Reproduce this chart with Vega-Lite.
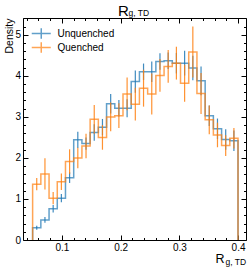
{
  "$schema": "https://vega.github.io/schema/vega-lite/v6.json",
  "width": 223,
  "height": 222,
  "autosize": {"type": "none"},
  "padding": {"left": 23, "top": 18, "right": 3, "bottom": 30},
  "title": {"text": "R", "anchor": "start", "frame": "group", "dx": 95, "dy": 11, "offset": -12, "baseline": "alphabetic", "fontSize": 15, "fontWeight": "normal", "font": "Liberation Sans", "color": "black"},
  "datasets": {
    "hist": [
      {"s": "Unquenched", "i": 0, "edge": 0.05, "v": 0},
      {"s": "Unquenched", "i": 1, "edge": 0.064, "mid": 0.057, "v": 0.30, "elo": 0.25, "ehi": 0.35},
      {"s": "Unquenched", "i": 2, "edge": 0.078, "mid": 0.071, "v": 0.49, "elo": 0.42, "ehi": 0.56},
      {"s": "Unquenched", "i": 3, "edge": 0.092, "mid": 0.085, "v": 0.76, "elo": 0.67, "ehi": 0.85},
      {"s": "Unquenched", "i": 4, "edge": 0.106, "mid": 0.099, "v": 1.02, "elo": 0.92, "ehi": 1.12},
      {"s": "Unquenched", "i": 5, "edge": 0.120, "mid": 0.113, "v": 1.52, "elo": 1.39, "ehi": 1.65},
      {"s": "Unquenched", "i": 6, "edge": 0.134, "mid": 0.127, "v": 2.44, "elo": 2.24, "ehi": 2.64},
      {"s": "Unquenched", "i": 7, "edge": 0.148, "mid": 0.141, "v": 2.35, "elo": 2.20, "ehi": 2.50},
      {"s": "Unquenched", "i": 8, "edge": 0.162, "mid": 0.155, "v": 2.62, "elo": 2.42, "ehi": 2.82},
      {"s": "Unquenched", "i": 9, "edge": 0.176, "mid": 0.169, "v": 2.75, "elo": 2.55, "ehi": 2.95},
      {"s": "Unquenched", "i": 10, "edge": 0.190, "mid": 0.183, "v": 3.32, "elo": 3.08, "ehi": 3.56},
      {"s": "Unquenched", "i": 11, "edge": 0.204, "mid": 0.197, "v": 3.21, "elo": 3.01, "ehi": 3.41},
      {"s": "Unquenched", "i": 12, "edge": 0.218, "mid": 0.211, "v": 3.21, "elo": 2.99, "ehi": 3.43},
      {"s": "Unquenched", "i": 13, "edge": 0.232, "mid": 0.225, "v": 3.86, "elo": 3.59, "ehi": 4.13},
      {"s": "Unquenched", "i": 14, "edge": 0.246, "mid": 0.239, "v": 4.10, "elo": 3.90, "ehi": 4.30},
      {"s": "Unquenched", "i": 15, "edge": 0.260, "mid": 0.253, "v": 4.10, "elo": 3.85, "ehi": 4.35},
      {"s": "Unquenched", "i": 16, "edge": 0.274, "mid": 0.267, "v": 4.35, "elo": 4.15, "ehi": 4.55},
      {"s": "Unquenched", "i": 17, "edge": 0.288, "mid": 0.281, "v": 4.37, "elo": 4.17, "ehi": 4.57},
      {"s": "Unquenched", "i": 18, "edge": 0.302, "mid": 0.295, "v": 4.31, "elo": 4.06, "ehi": 4.56},
      {"s": "Unquenched", "i": 19, "edge": 0.316, "mid": 0.309, "v": 4.31, "elo": 4.01, "ehi": 4.61},
      {"s": "Unquenched", "i": 20, "edge": 0.330, "mid": 0.323, "v": 4.19, "elo": 3.89, "ehi": 4.49},
      {"s": "Unquenched", "i": 21, "edge": 0.344, "mid": 0.337, "v": 3.88, "elo": 3.53, "ehi": 4.23},
      {"s": "Unquenched", "i": 22, "edge": 0.358, "mid": 0.351, "v": 3.03, "elo": 2.78, "ehi": 3.28},
      {"s": "Unquenched", "i": 23, "edge": 0.372, "mid": 0.365, "v": 2.71, "elo": 2.46, "ehi": 2.96},
      {"s": "Unquenched", "i": 24, "edge": 0.386, "mid": 0.379, "v": 2.45, "elo": 2.20, "ehi": 2.70},
      {"s": "Unquenched", "i": 25, "edge": 0.400, "mid": 0.393, "v": 2.42, "elo": 2.17, "ehi": 2.67},
      {"s": "Unquenched", "i": 26, "edge": 0.400, "v": 0},
      {"s": "Quenched", "i": 0, "edge": 0.05, "v": 0},
      {"s": "Quenched", "i": 1, "edge": 0.064, "mid": 0.057, "v": 1.36, "elo": 1.21, "ehi": 1.51},
      {"s": "Quenched", "i": 2, "edge": 0.078, "mid": 0.071, "v": 1.61, "elo": 1.23, "ehi": 1.99},
      {"s": "Quenched", "i": 3, "edge": 0.092, "mid": 0.085, "v": 1.02, "elo": 0.87, "ehi": 1.17},
      {"s": "Quenched", "i": 4, "edge": 0.106, "mid": 0.099, "v": 1.42, "elo": 1.22, "ehi": 1.62},
      {"s": "Quenched", "i": 5, "edge": 0.120, "mid": 0.113, "v": 1.91, "elo": 1.61, "ehi": 2.21},
      {"s": "Quenched", "i": 6, "edge": 0.134, "mid": 0.127, "v": 2.00, "elo": 1.75, "ehi": 2.25},
      {"s": "Quenched", "i": 7, "edge": 0.148, "mid": 0.141, "v": 2.29, "elo": 1.99, "ehi": 2.59},
      {"s": "Quenched", "i": 8, "edge": 0.162, "mid": 0.155, "v": 2.94, "elo": 2.59, "ehi": 3.29},
      {"s": "Quenched", "i": 9, "edge": 0.176, "mid": 0.169, "v": 2.50, "elo": 2.20, "ehi": 2.80},
      {"s": "Quenched", "i": 10, "edge": 0.190, "mid": 0.183, "v": 3.00, "elo": 2.65, "ehi": 3.35},
      {"s": "Quenched", "i": 11, "edge": 0.204, "mid": 0.197, "v": 3.03, "elo": 2.73, "ehi": 3.33},
      {"s": "Quenched", "i": 12, "edge": 0.218, "mid": 0.211, "v": 3.56, "elo": 3.16, "ehi": 3.96},
      {"s": "Quenched", "i": 13, "edge": 0.232, "mid": 0.225, "v": 3.31, "elo": 2.91, "ehi": 3.71},
      {"s": "Quenched", "i": 14, "edge": 0.246, "mid": 0.239, "v": 3.70, "elo": 3.25, "ehi": 4.15},
      {"s": "Quenched", "i": 15, "edge": 0.260, "mid": 0.253, "v": 3.56, "elo": 3.06, "ehi": 4.06},
      {"s": "Quenched", "i": 16, "edge": 0.274, "mid": 0.267, "v": 4.01, "elo": 3.61, "ehi": 4.41},
      {"s": "Quenched", "i": 17, "edge": 0.288, "mid": 0.281, "v": 4.23, "elo": 3.83, "ehi": 4.63},
      {"s": "Quenched", "i": 18, "edge": 0.302, "mid": 0.295, "v": 4.31, "elo": 3.91, "ehi": 4.71},
      {"s": "Quenched", "i": 19, "edge": 0.316, "mid": 0.309, "v": 3.82, "elo": 3.37, "ehi": 4.27},
      {"s": "Quenched", "i": 20, "edge": 0.330, "mid": 0.323, "v": 4.58, "elo": 3.96, "ehi": 5.20},
      {"s": "Quenched", "i": 21, "edge": 0.344, "mid": 0.337, "v": 3.57, "elo": 3.07, "ehi": 4.07},
      {"s": "Quenched", "i": 22, "edge": 0.358, "mid": 0.351, "v": 2.93, "elo": 2.58, "ehi": 3.28},
      {"s": "Quenched", "i": 23, "edge": 0.372, "mid": 0.365, "v": 2.56, "elo": 2.26, "ehi": 2.86},
      {"s": "Quenched", "i": 24, "edge": 0.386, "mid": 0.379, "v": 2.30, "elo": 2.05, "ehi": 2.55},
      {"s": "Quenched", "i": 25, "edge": 0.400, "mid": 0.393, "v": 2.48, "elo": 2.23, "ehi": 2.73},
      {"s": "Quenched", "i": 26, "edge": 0.400, "v": 0}
    ]
  },
  "data": {"name": "hist"},
  "encoding": {
    "color": {
      "field": "s", "type": "nominal",
      "scale": {"domain": ["Unquenched", "Quenched"], "range": ["#1f77b4", "#ff7f0e"]},
      "legend": {"orient": "none", "legendX": 12.75, "legendY": 10, "title": null, "padding": 0,
        "symbolType": "M-2,0H2M0,-1.1V1.1", "symbolSize": 90.25, "symbolStrokeWidth": 1.5,
        "labelFontSize": 10, "labelFont": "Liberation Sans", "labelColor": "black", "labelOffset": 10.75, "rowPadding": -3}
    }
  },
  "layer": [
    {
      "transform": [{"filter": "datum.s === 'Unquenched'"}],
      "mark": {"type": "line", "interpolate": "step-before", "strokeWidth": 1.5, "opacity": 0.7},
      "encoding": {
        "x": {"field": "edge", "type": "quantitative", "scale": {"domain": [0.0336, 0.4136], "nice": false, "zero": false},
          "axis": {"orient": "bottom", "values": [0.1, 0.2, 0.3, 0.4], "format": ".1f", "tickSize": -5, "labelPadding": 7,
            "title": "R", "titleX": 201, "titleY": 22, "titleAlign": "right", "titleBaseline": "alphabetic", "titleFontSize": 12.5}},
        "y": {"field": "v", "type": "quantitative", "scale": {"domain": [0, 5.41], "nice": false},
          "axis": {"orient": "left", "values": [0, 1, 2, 3, 4, 5], "tickSize": -5, "labelPadding": 7.5,
            "title": "Density", "titleX": -11, "titleY": 0, "titleAngle": 270, "titleAlign": "right", "titleBaseline": "alphabetic", "titleFontSize": 10.5}},
        "order": {"field": "i", "type": "quantitative"}
      }
    },
    {
      "transform": [{"filter": "datum.s === 'Unquenched'"}],
      "mark": {"type": "rule", "strokeWidth": 1.2, "opacity": 0.85},
      "encoding": {
        "x": {"field": "mid", "type": "quantitative", "scale": {"domain": [0.0336, 0.4136], "nice": false, "zero": false},
          "axis": {"orient": "bottom", "values": [0.04, 0.06, 0.08, 0.12, 0.14, 0.16, 0.18, 0.22, 0.24, 0.26, 0.28, 0.32, 0.34, 0.36, 0.38], "labels": false, "tickSize": -2.5, "title": null}},
        "y": {"field": "elo", "type": "quantitative", "scale": {"domain": [0, 5.41], "nice": false},
          "axis": {"orient": "left", "values": [0.2, 0.4, 0.6, 0.8, 1.2, 1.4, 1.6, 1.8, 2.2, 2.4, 2.6, 2.8, 3.2, 3.4, 3.6, 3.8, 4.2, 4.4, 4.6, 4.8, 5.2, 5.4], "labels": false, "tickSize": -2.5, "title": null}},
        "y2": {"field": "ehi"}
      }
    },
    {
      "transform": [{"filter": "datum.s === 'Quenched'"}],
      "mark": {"type": "line", "interpolate": "step-before", "strokeWidth": 1.5, "opacity": 0.7},
      "encoding": {
        "x": {"field": "edge", "type": "quantitative", "scale": {"domain": [0.0336, 0.4136], "nice": false, "zero": false},
          "axis": {"orient": "top", "values": [0.1, 0.2, 0.3, 0.4], "labels": false, "tickSize": -5,
            "title": "g, TD", "titleX": 105, "titleY": -3, "titleAlign": "left", "titleBaseline": "alphabetic", "titleFontSize": 8.5}},
        "y": {"field": "v", "type": "quantitative", "scale": {"domain": [0, 5.41], "nice": false},
          "axis": {"orient": "right", "values": [0, 1, 2, 3, 4, 5], "labels": false, "tickSize": -5,
            "title": "g, TD", "titleAngle": 0, "titleX": -21, "titleY": 246, "titleAlign": "left", "titleBaseline": "alphabetic", "titleFontSize": 8.5}},
        "order": {"field": "i", "type": "quantitative"}
      }
    },
    {
      "transform": [{"filter": "datum.s === 'Quenched'"}],
      "mark": {"type": "rule", "strokeWidth": 1.2, "opacity": 0.85},
      "encoding": {
        "x": {"field": "mid", "type": "quantitative", "scale": {"domain": [0.0336, 0.4136], "nice": false, "zero": false},
          "axis": {"orient": "top", "values": [0.04, 0.06, 0.08, 0.12, 0.14, 0.16, 0.18, 0.22, 0.24, 0.26, 0.28, 0.32, 0.34, 0.36, 0.38], "labels": false, "tickSize": -2.5, "title": null}},
        "y": {"field": "elo", "type": "quantitative", "scale": {"domain": [0, 5.41], "nice": false},
          "axis": {"orient": "right", "values": [0.2, 0.4, 0.6, 0.8, 1.2, 1.4, 1.6, 1.8, 2.2, 2.4, 2.6, 2.8, 3.2, 3.4, 3.6, 3.8, 4.2, 4.4, 4.6, 4.8, 5.2, 5.4], "labels": false, "tickSize": -2.5, "title": null}},
        "y2": {"field": "ehi"}
      }
    }
  ],
  "resolve": {"axis": {"x": "independent", "y": "independent"}},
  "config": {
    "view": {"stroke": "black", "strokeWidth": 1},
    "axis": {"domain": false, "grid": false, "zindex": 1, "tickColor": "black", "tickWidth": 1, "labelColor": "black", "titleColor": "black",
      "labelFont": "Liberation Sans", "titleFont": "Liberation Sans", "labelFontSize": 10, "titleFontWeight": "normal"}
  }
}
